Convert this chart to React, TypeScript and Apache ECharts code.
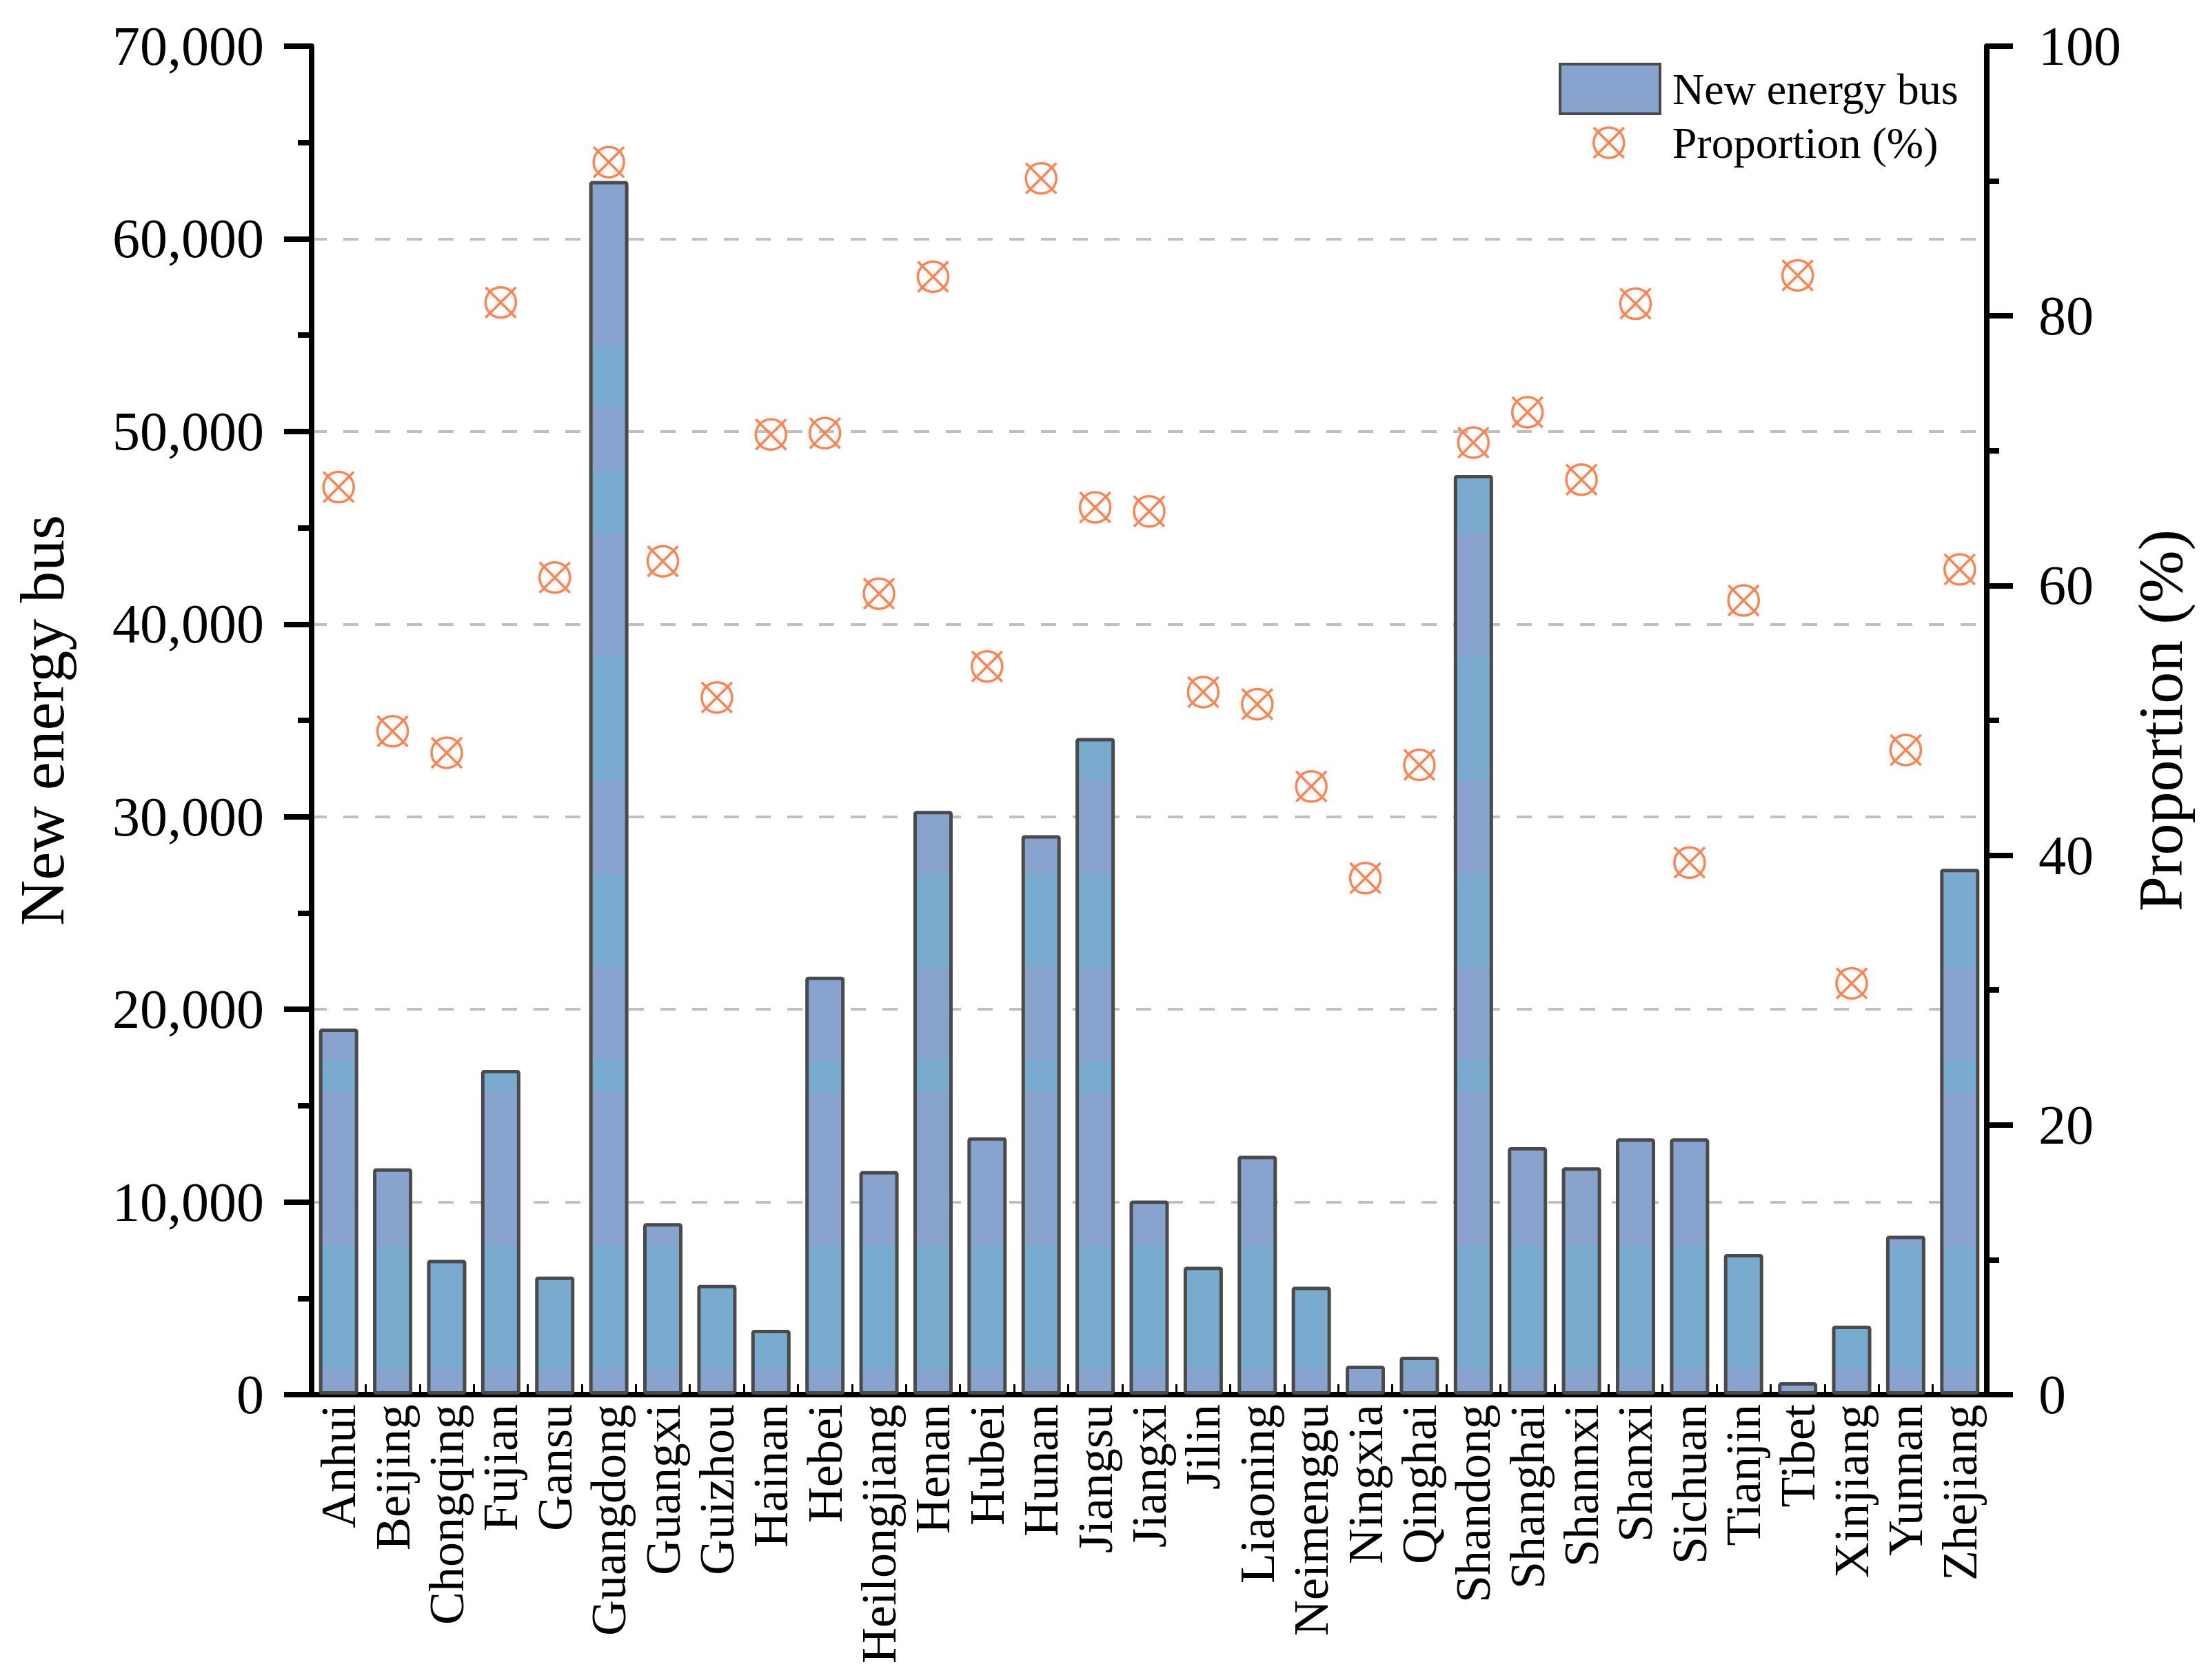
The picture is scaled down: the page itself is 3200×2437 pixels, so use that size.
import React, { useEffect, useRef } from "react";
import * as echarts from "echarts";

const categories = [
  "Anhui", "Beijing", "Chongqing", "Fujian", "Gansu", "Guangdong", "Guangxi", "Guizhou",
  "Hainan", "Hebei", "Heilongjiang", "Henan", "Hubei", "Hunan", "Jiangsu", "Jiangxi",
  "Jilin", "Liaoning", "Neimenggu", "Ningxia", "Qinghai", "Shandong", "Shanghai", "Shannxi",
  "Shanxi", "Sichuan", "Tianjin", "Tibet", "Xinjiang", "Yunnan", "Zhejiang",
];

const newEnergyBus = [
  19000, 11750, 7000, 16860, 6130, 63000, 8900, 5700,
  3360, 21700, 11600, 30300, 13360, 29040, 34090, 10070,
  6640, 12400, 5600, 1500, 1970, 47740, 12850, 11800,
  13300, 13300, 7300, 640, 3580, 8250, 27300,
];

const proportion = [
  67.3, 49.2, 47.6, 81.0, 60.6, 91.4, 61.8, 51.7,
  71.2, 71.3, 59.4, 82.9, 54.0, 90.2, 65.8, 65.5,
  52.1, 51.2, 45.1, 38.3, 46.7, 70.6, 72.85, 67.85,
  80.9, 39.45, 58.9, 83.0, 30.5, 47.8, 61.2,
];

const leftAxisTicks = { min: 0, max: 70000, interval: 10000 };
const rightAxisTicks = { min: 0, max: 100, interval: 20 };

const W = 3200;
const H = 2437;
const FONT = "'Liberation Serif', 'Times New Roman', serif";
const BLUE = "#87A3CE";
const TEAL = "#79ABCE";
const EDGE = "#4A4A4A";
const ORANGE = "#FF8350";
const tealBands = [
  [502, 590], [681, 774], [951, 1133], [1268, 1404], [1538, 1584], [1807, 1987],
];

function bandGradient() {
  const stops: any[] = [{ offset: 0, color: BLUE }];
  for (const [a, b] of tealBands) {
    stops.push(
      { offset: a / H, color: BLUE },
      { offset: a / H, color: TEAL },
      { offset: b / H, color: TEAL },
      { offset: b / H, color: BLUE }
    );
  }
  stops.push({ offset: 1, color: BLUE });
  return { type: "linear", x: 0, y: 0, x2: 0, y2: H, global: true, colorStops: stops };
}

const markerPath =
  "path://M0,50 A50,50 0 1,1 100,50 A50,50 0 1,1 0,50 Z M0,0 L100,100 M100,0 L0,100";

export default function App() {
  const ref = useRef<HTMLDivElement>(null);

  useEffect(() => {
    document.body.style.margin = "0";
    if (!ref.current) return;
    const chart = echarts.init(ref.current, null, { renderer: "svg" });
    const axisLineStyle = { color: "#000", width: 8 };
    const labelStyle = { fontFamily: FONT, color: "#000" };
    const markerStyle = { color: "rgba(0,0,0,0)", borderColor: ORANGE, borderWidth: 3.5, opacity: 1 };
    chart.setOption({
      animation: false,
      backgroundColor: "#fff",
      grid: {
        left: 452,
        right: W - 2882,
        top: 67,
        bottom: H - 2023,
      },
      legend: [
        {
          data: [
            {
              name: "New energy bus",
              itemStyle: { color: BLUE, borderColor: EDGE, borderWidth: 4 },
            },
          ],
          left: 2256,
          top: 86,
          itemWidth: 145,
          itemHeight: 72,
          icon: "rect",
          selectedMode: false,
          textStyle: { ...labelStyle, fontSize: 64, padding: [0, 0, 0, 13] },
        },
        {
          data: [
            {
              name: "Proportion (%)",
              icon: markerPath,
              itemStyle: markerStyle,
            },
          ],
          left: 2305,
          top: 170,
          itemWidth: 44,
          itemHeight: 44,
          selectedMode: false,
          textStyle: { ...labelStyle, fontSize: 64, padding: [0, 0, 0, 65] },
        },
      ],
      xAxis: [
        {
          type: "category",
          data: categories,
          boundaryGap: true,
          axisLine: { lineStyle: axisLineStyle },
          axisTick: {
            show: true,
            inside: true,
            length: 15,
            alignWithLabel: false,
            lineStyle: { color: "#000", width: 3 },
          },
          axisLabel: { ...labelStyle, fontSize: 72, rotate: 90, margin: 14, interval: 0 },
          splitLine: { show: false },
        },
        {
          type: "category",
          data: categories,
          position: "top",
          axisLine: { show: true, lineStyle: axisLineStyle },
          axisTick: { show: false },
          axisLabel: { show: false },
          splitLine: { show: false },
        },
      ],
      yAxis: [
        {
          type: "value",
          position: "left",
          min: leftAxisTicks.min,
          max: leftAxisTicks.max,
          interval: leftAxisTicks.interval,
          name: "New energy bus",
          nameLocation: "middle",
          nameRotate: 90,
          nameGap: 345,
          nameTextStyle: { ...labelStyle, fontSize: 92 },
          axisLine: { show: true, lineStyle: axisLineStyle },
          axisTick: { show: true, inside: false, length: 40, lineStyle: { color: "#000", width: 8 } },
          minorTick: { show: true, splitNumber: 2, length: 20, lineStyle: { color: "#000", width: 8 } },
          axisLabel: {
            ...labelStyle,
            fontSize: 80,
            margin: 69,
            formatter: (v: number) => v.toLocaleString("en-US"),
          },
          splitLine: {
            show: true,
            showMinLine: false,
            showMaxLine: false,
            lineStyle: { color: "#C0C0C0", width: 4, type: [22, 24] },
          },
        },
        {
          type: "value",
          position: "right",
          min: rightAxisTicks.min,
          max: rightAxisTicks.max,
          interval: rightAxisTicks.interval,
          name: "Proportion (%)",
          nameLocation: "middle",
          nameRotate: 90,
          nameGap: 205,
          nameTextStyle: { ...labelStyle, fontSize: 92 },
          axisLine: { show: true, lineStyle: axisLineStyle },
          axisTick: { show: true, inside: false, length: 38, lineStyle: { color: "#000", width: 8 } },
          minorTick: { show: true, splitNumber: 2, length: 18, lineStyle: { color: "#000", width: 8 } },
          axisLabel: { ...labelStyle, fontSize: 80, margin: 75 },
          splitLine: { show: false },
        },
      ],
      series: [
        {
          name: "New energy bus",
          type: "bar",
          data: newEnergyBus,
          barWidth: 57,
          itemStyle: {
            color: bandGradient(),
            borderColor: EDGE,
            borderWidth: 5,
            borderRadius: 2,
          },
          z: 2,
        },
        {
          name: "Proportion (%)",
          type: "scatter",
          yAxisIndex: 1,
          data: proportion,
          symbol: markerPath,
          symbolSize: 44,
          itemStyle: markerStyle,
          z: 3,
        },
      ],
    });
    return () => chart.dispose();
  }, []);

  return (
    <div
      ref={ref}
      style={{ position: "absolute", left: 0, top: 0, width: W, height: H }}
    />
  );
}
